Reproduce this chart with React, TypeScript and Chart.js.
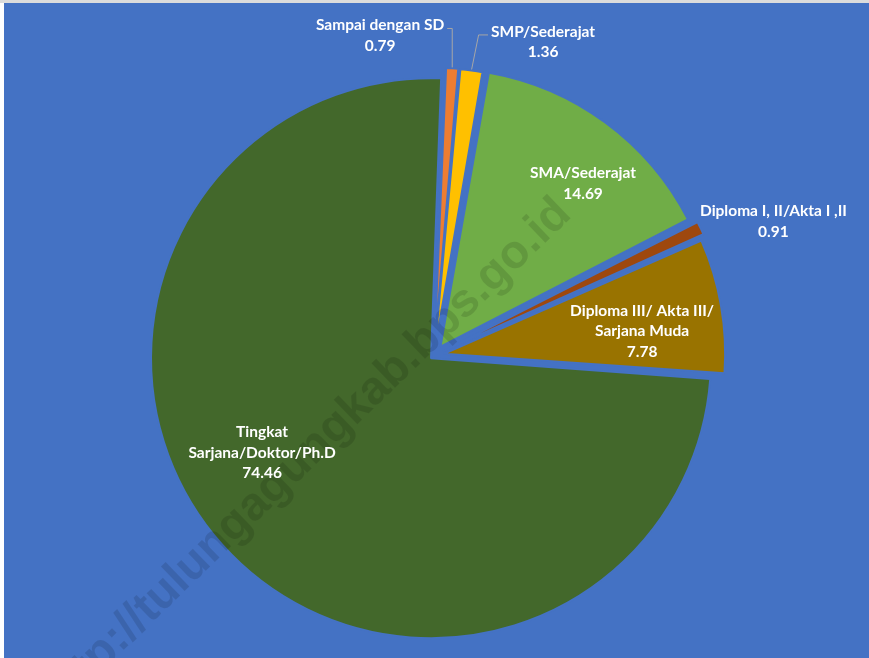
import React, { useEffect, useRef } from "react";
import { Chart, registerables } from "chart.js";

Chart.register(...registerables);

// ---- data ----
const categories = [
  "Sampai dengan SD",
  "SMP/Sederajat",
  "SMA/Sederajat",
  "Diploma I, II/Akta I ,II",
  "Diploma III/ Akta III/ Sarjana Muda",
  "Tingkat Sarjana/Doktor/Ph.D",
];
const labelLines = [
  ["Sampai dengan SD"],
  ["SMP/Sederajat"],
  ["SMA/Sederajat"],
  ["Diploma I, II/Akta I ,II"],
  ["Diploma III/ Akta III/", "Sarjana Muda"],
  ["Tingkat", "Sarjana/Doktor/Ph.D"],
];
const values = [0.79, 1.36, 14.69, 0.91, 7.78, 74.46];
const watermarkText = "http://tulungagungkab.bps.go.id";

// ---- styles ----
const BG = "#4472C4";
const colors = ["#ED7D31", "#FFC000", "#70AD47", "#9E480E", "#997300", "#43682B"];
// slice explosion (translation in px); Chart.js translates by offset/4
const explode = [6, 6, 11, 10, 10, 4];
// placement of labels: dist = fraction of radius from centre, dAngle = degrees from slice mid-angle
const labelPlacement = [
  { dist: 1.175, dAngle: -13.2, leader: "right" },
  { dist: 1.202, dAngle: 11.7, leader: "left" },
  { dist: 0.825, dAngle: 4.5, leader: "" },
  { dist: 1.322, dAngle: 4.0, leader: "" },
  { dist: 0.759, dAngle: 3.2, leader: "" },
  { dist: 0.716, dAngle: 12.3, leader: "" },
];
const LABEL_FONT = 'bold 15.5px Lato, "Open Sans", sans-serif';
const LINE_H = 20.5;

const offsets = explode.map((t) => t * 4);

const bgPlugin = {
  id: "bg",
  beforeDraw(chart: any) {
    const c = chart.ctx;
    c.save();
    c.fillStyle = BG;
    c.fillRect(0, 0, chart.width, chart.height);
    c.restore();
  },
};

const watermarkPlugin = {
  id: "watermark",
  afterDatasetsDraw(chart: any) {
    const c = chart.ctx;
    c.save();
    c.translate(569, 213);
    c.rotate((-44 * Math.PI) / 180);
    c.font = 'bold 47px "Liberation Sans", Arial, sans-serif';
    c.fillStyle = "rgba(0,0,0,0.12)";
    c.textAlign = "right";
    c.textBaseline = "alphabetic";
    c.fillText(watermarkText, 0, 0);
    c.restore();
  },
};

const labelPlugin = {
  id: "sliceLabels",
  afterDraw(chart: any) {
    const c = chart.ctx;
    const meta = chart.getDatasetMeta(0);
    c.save();
    c.font = LABEL_FONT;
    c.textAlign = "center";
    c.textBaseline = "middle";
    meta.data.forEach((arc: any, i: number) => {
      const { x, y, startAngle, endAngle, outerRadius, circumference } = arc.getProps(
        ["x", "y", "startAngle", "endAngle", "outerRadius", "circumference"],
        true
      );
      const mid = (startAngle + endAngle) / 2;
      const p = labelPlacement[i];
      const a = mid + (p.dAngle * Math.PI) / 180;
      const cx = x + Math.cos(a) * outerRadius * p.dist;
      const cy = y + Math.sin(a) * outerRadius * p.dist;
      const lines = [...labelLines[i], values[i].toFixed(2)];
      const top = cy - ((lines.length - 1) * LINE_H) / 2;
      if (p.leader) {
        const fix = 1 - Math.sin(Math.min(Math.PI, circumference || 0));
        const edgeR = outerRadius + explode[i] * (1 + fix) + 1;
        const tx = x + Math.cos(mid) * edgeR;
        const ty = y + Math.sin(mid) * edgeR;
        const w = c.measureText(lines[0]).width;
        c.strokeStyle = "#A6A6A6";
        c.lineWidth = 1;
        c.beginPath();
        if (p.leader === "right") {
          const sx = cx + w / 2 + 3;
          const sy = top + 3;
          c.moveTo(sx, sy);
          c.lineTo(tx, sy);
          c.lineTo(tx, ty);
        } else {
          const sx = cx - w / 2 - 3;
          const sy = top + 3;
          c.moveTo(sx, sy);
          c.lineTo(tx + 7, sy);
          c.lineTo(tx, ty);
        }
        c.stroke();
      }
      c.fillStyle = "#FFFFFF";
      lines.forEach((t, k) => c.fillText(t, cx, top + k * LINE_H));
    });
    c.restore();
  },
};

export default function App() {
  const ref = useRef<HTMLCanvasElement>(null);
  useEffect(() => {
    const ctx = ref.current!.getContext("2d")!;
    const chart = new Chart(ctx, {
      type: "pie",
      data: {
        labels: categories,
        datasets: [
          {
            data: values,
            backgroundColor: colors,
            borderColor: BG,
            borderWidth: 2,
            offset: offsets,
          },
        ],
      },
      options: {
        responsive: false,
        animation: false,
        rotation: 2.2,
        radius: 276,
        layout: { padding: { left: 0, right: 5, top: 50, bottom: 0 } },
        plugins: { legend: { display: false }, tooltip: { enabled: false } },
      } as any,
      plugins: [bgPlugin, watermarkPlugin, labelPlugin],
    });
    return () => chart.destroy();
  }, []);
  return (
    <div
      style={{
        position: "fixed",
        left: 0,
        top: 0,
        width: 869,
        height: 658,
        background: "#fff",
        overflow: "hidden",
      }}
    >
      <div
        style={{ position: "absolute", left: 0, top: 0, width: 869, height: 3, background: "#dcdcdc" }}
      />
      <canvas
        ref={ref}
        width={865}
        height={655}
        style={{ position: "absolute", left: 4, top: 3, width: 865, height: 655 }}
      />
    </div>
  );
}
